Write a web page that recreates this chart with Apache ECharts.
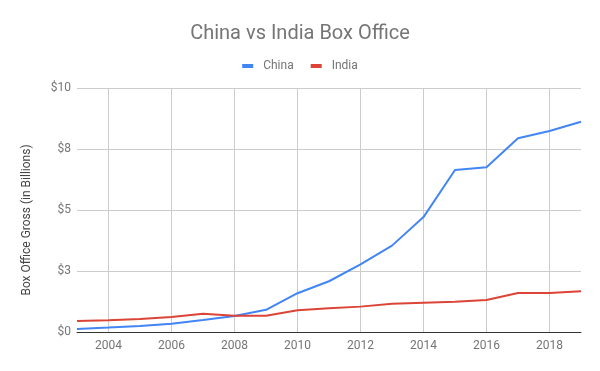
<!DOCTYPE html>
<html><head><meta charset="utf-8">
<script src="https://cdn.jsdelivr.net/npm/echarts@6/dist/echarts.min.js"></script>
<style>html,body{margin:0;padding:0;background:#fff}#c{width:600px;height:371px}</style>
</head><body><div id="c"></div>
<script>
const years = ['2003','2004','2005','2006','2007','2008','2009','2010','2011','2012','2013','2014','2015','2016','2017','2018','2019'];
const china = [0.12,0.18,0.25,0.34,0.49,0.66,0.91,1.59,2.08,2.77,3.54,4.71,6.64,6.75,7.94,8.24,8.62];
const india = [0.45,0.48,0.53,0.61,0.75,0.67,0.67,0.89,0.97,1.04,1.16,1.20,1.24,1.31,1.60,1.60,1.67];
const yTicks = [0, 2.5, 5, 7.5, 10];

const chart = echarts.init(document.getElementById('c'), null, {renderer: 'canvas'});
const isEven = (i, v) => Number(v) % 2 === 0;
chart.setOption({
  animation: false,
  textStyle: {fontFamily: 'Roboto'},
  title: {
    text: 'China vs India Box Office', left: 'center', top: 19,
    textStyle: {fontFamily: 'Roboto', fontSize: 20, fontWeight: 'normal', color: '#757575'}
  },
  legend: {
    top: 55, left: 'center', itemWidth: 11, itemHeight: 4, itemGap: 17,
    icon: 'rect',
    textStyle: {fontFamily: 'Roboto', fontSize: 12, color: '#757575', padding: [0, 0, 0, 5]},
    data: ['China', 'India']
  },
  grid: {left: 77, right: 19, top: 88, bottom: 39, containLabel: false},
  xAxis: {
    type: 'category', data: years, boundaryGap: false,
    axisLine: {show: true, lineStyle: {color: '#333', width: 1}},
    axisTick: {show: false},
    axisLabel: {interval: isEven, color: '#757575', fontSize: 12, margin: 8, fontFamily: 'Roboto'},
    splitLine: {show: true, interval: isEven, lineStyle: {color: '#cccccc', width: 1}}
  },
  yAxis: {
    type: 'value', min: 0, max: 10, interval: 2.5,
    name: 'Box Office Gross (in Billions)', nameLocation: 'middle', nameGap: 44,
    nameTextStyle: {color: '#444', fontSize: 12, fontFamily: 'Roboto', padding: [0, 20, 0, 0]},
    axisLine: {show: false}, axisTick: {show: false},
    axisLabel: {color: '#757575', fontSize: 12, margin: 6, fontFamily: 'Roboto',
      formatter: v => '$' + Math.round(v)},
    splitLine: {lineStyle: {color: '#cccccc', width: 1}}
  },
  series: [
    {name: 'China', type: 'line', data: china, showSymbol: false, symbol: 'none',
     lineStyle: {color: '#4285F4', width: 2}, itemStyle: {color: '#4285F4'}},
    {name: 'India', type: 'line', data: india, showSymbol: false, symbol: 'none',
     lineStyle: {color: '#DB4437', width: 2}, itemStyle: {color: '#DB4437'}}
  ]
});
</script></body></html>
